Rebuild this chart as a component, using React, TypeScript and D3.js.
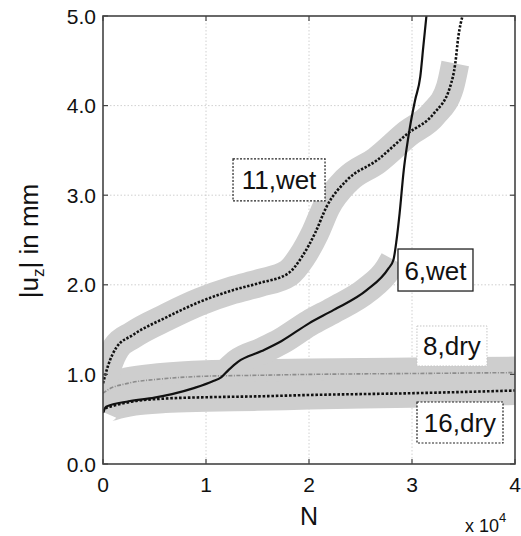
import React from 'react';
import * as d3 from 'd3';

const W = 521;
const H = 536;
const plot = { left: 103, right: 515, top: 16, bottom: 464 };

const xTicks = [0, 10000, 20000, 30000, 40000];
const xTickLabels = ['0', '1', '2', '3', '4'];
const yTicks = [0, 1, 2, 3, 4, 5];
const yTickLabels = ['0.0', '1.0', '2.0', '3.0', '4.0', '5.0'];
const xGrid = [10000, 20000, 30000];
const yGrid = [1, 2, 3, 4];

// Specimen 11, wet
const n11 = [0, 500, 1300, 2900, 6200, 9400, 12600, 15200, 18000, 19300, 20600, 21700, 23700, 26600, 29600, 32100, 33700, 34200, 34500, 34900];
const u11 = [0.9, 1.1, 1.3, 1.44, 1.64, 1.81, 1.94, 2.02, 2.13, 2.31, 2.58, 2.87, 3.17, 3.39, 3.69, 3.91, 4.21, 4.47, 4.77, 5.0];

// Specimen 6, wet
const n6 = [0, 300, 2500, 5000, 6700, 8900, 10600, 11500, 12200, 13100, 15400, 17300, 20000, 22400, 25600, 27700, 28200, 28500, 28800, 29200, 29500, 29800, 30300, 30800, 31100, 31400];
const u6 = [0.57, 0.64, 0.7, 0.74, 0.78, 0.85, 0.92, 0.97, 1.05, 1.14, 1.26, 1.37, 1.57, 1.72, 1.94, 2.18, 2.28, 2.5, 2.8, 3.28, 3.54, 3.76, 4.06, 4.32, 4.66, 5.0];

// Specimen 8, dry
const n8 = [0, 500, 2400, 5700, 10000, 15000, 20000, 30000, 40000];
const u8 = [0.79, 0.83, 0.9, 0.95, 0.98, 0.99, 1.0, 1.01, 1.02];

// Specimen 16, dry
const n16 = [0, 200, 1000, 3000, 6000, 10000, 15000, 20000, 30000, 40000];
const u16 = [0.58, 0.62, 0.65, 0.7, 0.73, 0.745, 0.755, 0.77, 0.79, 0.82];

const labels = ['11,wet', '6,wet', '8,dry', '16,dry'];
const labelN = [17090, 32280, 33880, 34660];
const labelU = [3.17, 2.165, 1.317, 0.463];

type Series = {
  n: number[];
  u: number[];
  bandFrom: number;
  bandTo: number;
  bandWidth: number;
  stroke: string;
  width: number;
  dash?: string;
};

const series: Series[] = [
  { n: n8, u: u8, bandFrom: 0, bandTo: 40000, bandWidth: 32, stroke: '#8c8c8c', width: 1.6, dash: '4 1.5 1 1.5' },
  { n: n16, u: u16, bandFrom: 0, bandTo: 40000, bandWidth: 29, stroke: '#111', width: 2.6, dash: '2.6 1.8' },
  { n: n11, u: u11, bandFrom: 0, bandTo: 34200, bandWidth: 28, stroke: '#111', width: 2.6, dash: '2.4 1.6' },
  { n: n6, u: u6, bandFrom: 12200, bandTo: 28200, bandWidth: 27, stroke: '#111', width: 2.2, dash: undefined },
];

const boxStyles = [
  { w: 92, h: 42, stroke: '#222', dash: '2 1.5', sw: 1.2 },
  { w: 75, h: 42, stroke: '#222', dash: undefined, sw: 1.3 },
  { w: 70, h: 40, stroke: '#c4c4c4', dash: '1.5 1.5', sw: 1 },
  { w: 86, h: 41, stroke: '#222', dash: '2 1.5', sw: 1.2 },
];

const FONT = 'Liberation Sans, Arial, Helvetica, sans-serif';

export default function App() {
  const x = d3.scaleLinear().domain([0, 40000]).range([plot.left, plot.right]);
  const y = d3.scaleLinear().domain([0, 5]).range([plot.bottom, plot.top]);

  const line = d3
    .line<[number, number]>()
    .x((d) => x(d[0]))
    .y((d) => y(d[1]))
    .curve(d3.curveMonotoneX);

  const pts = (s: Series) => s.n.map((v, i) => [v, s.u[i]] as [number, number]);

  return (
    <svg width={W} height={H} style={{ position: 'absolute', left: 0, top: 0, background: '#fff' }} fontFamily={FONT}>
      <defs>
        <clipPath id="plotClip">
          <rect x={plot.left} y={plot.top} width={plot.right - plot.left} height={plot.bottom - plot.top} />
        </clipPath>
      </defs>
      <rect x={0} y={0} width={W} height={H} fill="#fff" />

      {/* grid */}
      {xGrid.map((v) => (
        <line key={'gx' + v} x1={x(v)} x2={x(v)} y1={plot.top} y2={plot.bottom} stroke="#c4c4c4" strokeWidth={0.8} strokeDasharray="1.5 2" />
      ))}
      {yGrid.map((v) => (
        <line key={'gy' + v} x1={plot.left} x2={plot.right} y1={y(v)} y2={y(v)} stroke="#c4c4c4" strokeWidth={0.8} strokeDasharray="1.5 2" />
      ))}

      <g clipPath="url(#plotClip)">
        {/* scatter bands */}
        {series.map((s, i) => (
          <path
            key={'band' + i}
            d={line(pts(s).filter((p) => p[0] >= s.bandFrom && p[0] <= s.bandTo)) || ''}
            fill="none"
            stroke="#cecece"
            strokeWidth={s.bandWidth}
            strokeLinejoin="round"
            strokeLinecap="butt"
          />
        ))}
        {/* mean curves */}
        {series.map((s, i) => (
          <path
            key={'line' + i}
            d={line(pts(s)) || ''}
            fill="none"
            stroke={s.stroke}
            strokeWidth={s.width}
            strokeDasharray={s.dash}
          />
        ))}
      </g>

      {/* label boxes */}
      {labels.map((t, i) => {
        const b = boxStyles[i];
        const cx = x(labelN[i]);
        const cy = y(labelU[i]);
        return (
          <g key={'lab' + i}>
            <rect x={cx - b.w / 2} y={cy - b.h / 2} width={b.w} height={b.h} fill="#fff" stroke={b.stroke} strokeWidth={b.sw} strokeDasharray={b.dash} />
            <text x={cx} y={cy + 9.5} textAnchor="middle" fontSize={26} fill="#111">{t}</text>
          </g>
        );
      })}

      {/* axes box */}
      <rect x={plot.left} y={plot.top} width={plot.right - plot.left} height={plot.bottom - plot.top} fill="none" stroke="#444" strokeWidth={1.6} />

      {xTicks.map((v, i) => (
        <g key={'xt' + v}>
          <line x1={x(v)} x2={x(v)} y1={plot.bottom} y2={plot.bottom - 5} stroke="#444" strokeWidth={1.2} />
          <line x1={x(v)} x2={x(v)} y1={plot.top} y2={plot.top + 5} stroke="#444" strokeWidth={1.2} />
          <text x={x(v)} y={plot.bottom + 28} textAnchor="middle" fontSize={21} fill="#111">{xTickLabels[i]}</text>
        </g>
      ))}
      {yTicks.map((v, i) => (
        <g key={'yt' + v}>
          <line x1={plot.left} x2={plot.left + 5} y1={y(v)} y2={y(v)} stroke="#444" strokeWidth={1.2} />
          <line x1={plot.right} x2={plot.right - 5} y1={y(v)} y2={y(v)} stroke="#444" strokeWidth={1.2} />
          <text x={96} y={y(v) + 7.5} textAnchor="end" fontSize={21} fill="#111">{yTickLabels[i]}</text>
        </g>
      ))}

      {/* axis titles */}
      <text x={309} y={525} textAnchor="middle" fontSize={25} fill="#111">N</text>
      <text x={465} y={532} fontSize={18} fill="#111">
        x 10<tspan dy={-10} fontSize={13}>4</tspan>
      </text>
      <text transform="translate(38,241) rotate(-90)" textAnchor="middle" fontSize={26} fill="#111">
        |u<tspan dy={6} fontSize={17}>z</tspan><tspan dy={-6}>| in mm</tspan>
      </text>
    </svg>
  );
}
